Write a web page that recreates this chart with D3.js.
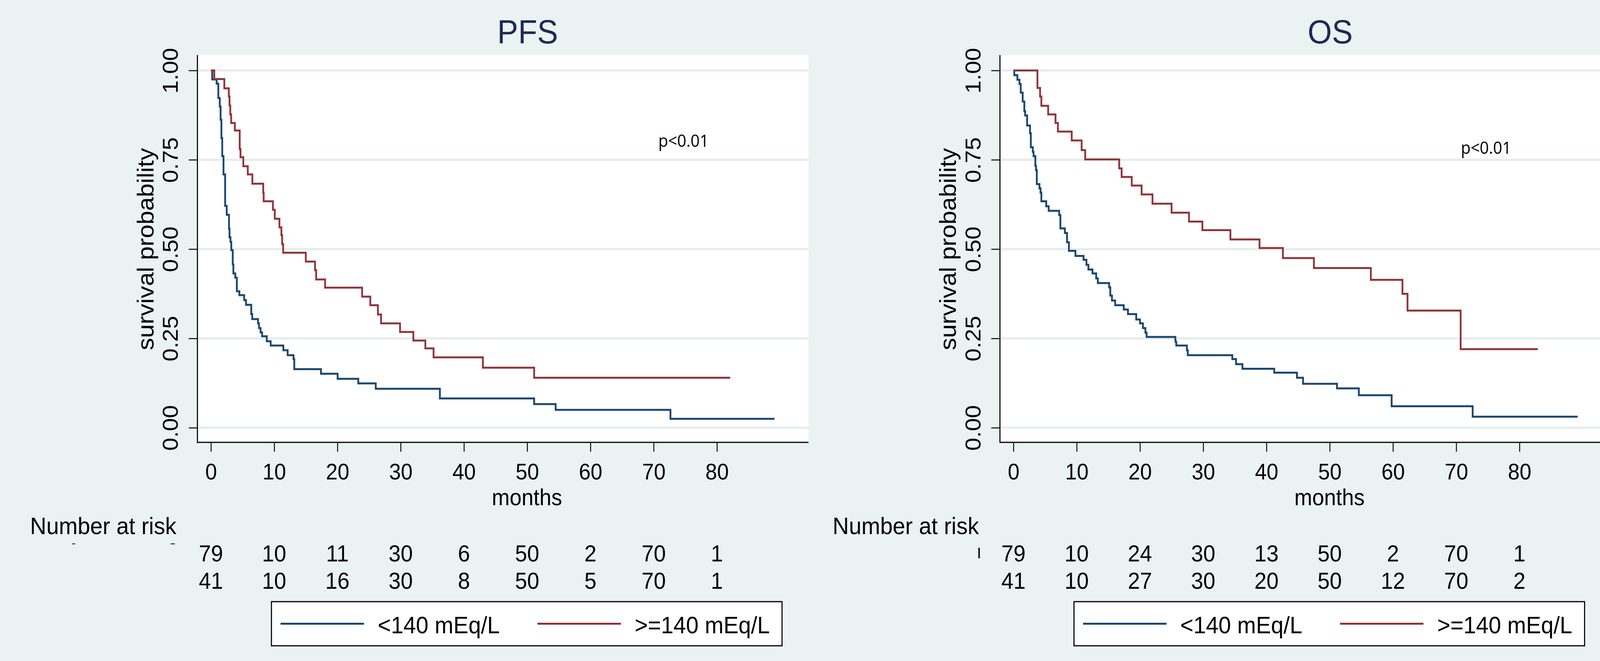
<!DOCTYPE html>
<html>
<head>
<meta charset="utf-8">
<script src="https://cdn.jsdelivr.net/npm/d3@7"></script>
<style>
  html, body { margin: 0; padding: 0; background: #eaf2f2; overflow: hidden; }
  svg { display: block; width: 100vw; height: 100vh; }
  text { font-family: "Liberation Sans", Arial, sans-serif; fill: #000; }
</style>
</head>
<body>
<svg id="chart"></svg>
<script>
// Kaplan-Meier step values (months, survival)
const pfsLowTimes = [0, 0.2, 0.9, 1.17, 1.4, 1.53, 1.66, 1.79, 1.99, 2.25, 2.5, 2.86, 2.94, 3.09, 3.22, 3.45, 3.55, 3.85, 4.1, 4.5, 5.26, 5.55, 6.38, 6.53, 7.45, 7.6, 7.85, 8.09, 8.83, 9.45, 11.45, 12.13, 13.06, 13.18, 17.4, 20.03, 23.3, 26.06, 36.2, 51.1, 54.5, 72.65, 89.1];
const pfsLowSurv = [1, 0.975, 0.963, 0.923, 0.899, 0.862, 0.811, 0.76, 0.709, 0.621, 0.596, 0.557, 0.533, 0.52, 0.497, 0.457, 0.432, 0.42, 0.382, 0.371, 0.357, 0.344, 0.318, 0.304, 0.292, 0.279, 0.267, 0.256, 0.242, 0.23, 0.217, 0.203, 0.192, 0.164, 0.151, 0.137, 0.124, 0.109, 0.082, 0.066, 0.05, 0.025, 0.025];

const pfsHighTimes = [0, 0.53, 2.12, 2.83, 2.94, 3.06, 3.2, 3.78, 4.55, 4.68, 5.12, 5.83, 6.55, 8.27, 8.34, 9.8, 10.1, 10.83, 11.14, 11.26, 11.42, 15.0, 16.46, 16.64, 18.05, 23.9, 25.2, 26.4, 26.9, 29.9, 32.0, 33.9, 35.2, 43.0, 51.1, 82.1];
const pfsHighSurv = [1, 0.976, 0.95, 0.927, 0.902, 0.877, 0.853, 0.832, 0.78, 0.757, 0.732, 0.709, 0.683, 0.658, 0.634, 0.61, 0.585, 0.561, 0.539, 0.514, 0.49, 0.465, 0.441, 0.415, 0.392, 0.367, 0.343, 0.317, 0.292, 0.268, 0.244, 0.222, 0.197, 0.168, 0.14, 0.14];

const osLowTimes = [0, 0.13, 0.62, 0.95, 1.15, 1.46, 1.72, 1.85, 2.16, 2.62, 2.75, 3.06, 3.18, 3.46, 3.57, 3.69, 4.11, 4.28, 4.41, 5.18, 5.57, 7.23, 7.42, 8.13, 8.47, 8.77, 9.8, 11.08, 11.54, 11.85, 12.49, 13.08, 13.34, 15.13, 15.31, 15.57, 16.08, 17.44, 18.1, 19.41, 20.0, 20.47, 20.86, 21.05, 25.6, 25.74, 27.42, 27.56, 34.6, 35.19, 36.2, 41.23, 44.82, 45.78, 51.15, 54.6, 59.79, 72.6, 89.2];
const osLowSurv = [1, 0.987, 0.974, 0.962, 0.938, 0.913, 0.886, 0.874, 0.846, 0.824, 0.785, 0.772, 0.76, 0.733, 0.721, 0.682, 0.67, 0.658, 0.634, 0.62, 0.607, 0.595, 0.558, 0.545, 0.519, 0.495, 0.481, 0.47, 0.456, 0.443, 0.432, 0.418, 0.405, 0.393, 0.37, 0.356, 0.343, 0.331, 0.318, 0.303, 0.292, 0.279, 0.266, 0.254, 0.241, 0.23, 0.217, 0.203, 0.192, 0.178, 0.165, 0.154, 0.14, 0.123, 0.11, 0.091, 0.06, 0.031, 0.031];

const osHighTimes = [0, 3.79, 4.21, 4.41, 5.49, 6.65, 7.03, 9.21, 10.78, 11.34, 16.72, 17.1, 18.7, 20.26, 21.98, 25.0, 27.75, 29.87, 34.3, 38.9, 42.6, 47.5, 56.5, 61.5, 62.3, 70.7, 82.9];
const osHighSurv = [1, 0.951, 0.927, 0.901, 0.877, 0.853, 0.829, 0.804, 0.777, 0.751, 0.726, 0.702, 0.678, 0.653, 0.627, 0.602, 0.577, 0.553, 0.527, 0.503, 0.475, 0.447, 0.414, 0.375, 0.328, 0.22, 0.22];

// number at risk rows, as printed under the ticks 0..80
const pfsRiskLow = ["79", "10", "11", "30", "6", "50", "2", "70", "1"];
const pfsRiskHigh = ["41", "10", "16", "30", "8", "50", "5", "70", "1"];
const osRiskLow = ["79", "10", "24", "30", "13", "50", "2", "70", "1"];
const osRiskHigh = ["41", "10", "27", "30", "20", "50", "12", "70", "2"];

const monthTicks = [0, 10, 20, 30, 40, 50, 60, 70, 80];
const probTicks = [0, 0.25, 0.5, 0.75, 1];
const groupLabels = ["<140 mEq/L", ">=140 mEq/L"];
const titles = ["PFS", "OS"];

const W = 4409, H = 1693;
const colors = ["#1a476f", "#90353b"];
const plot = { left: 544, right: 2228, top: 141, bottom: 1133 };

// draw in picture units and let the viewBox fit the window
const svg = d3.select("#chart")
  .attr("viewBox", `0 0 ${W} ${H}`)
  .attr("preserveAspectRatio", "none");

svg.append("rect")
  .attr("width", W)
  .attr("height", H)
  .attr("fill", "#eaf2f2");

const x = d3.scaleLinear().domain([0, 80]).range([581.2, 1975.6]);
const y = d3.scaleLinear().domain([0, 1]).range([1095.5, 180.5]);

const zip = (t, s) => t.map((d, i) => [d, s[i]]);

const panels = [
  { title: titles[0], dx: 0, pBase: 376,
    curves: [zip(pfsLowTimes, pfsLowSurv), zip(pfsHighTimes, pfsHighSurv)],
    risk: [pfsRiskLow, pfsRiskHigh] },
  { title: titles[1], dx: 2211.5, pBase: 394,
    curves: [zip(osLowTimes, osLowSurv), zip(osHighTimes, osHighSurv)],
    risk: [osRiskLow, osRiskHigh] }
];

const line = d3.line()
  .x(d => x(d[0]))
  .y(d => y(d[1]))
  .curve(d3.curveStepAfter);

panels.forEach(p => {
  const g = svg.append("g").attr("transform", `translate(${p.dx},0)`);

  // title
  g.append("text")
    .attr("x", 1454)
    .attr("y", 111)
    .attr("text-anchor", "middle")
    .style("font-size", "86px")
    .style("fill", "#1c2a55")
    .text(p.title);

  // plot region
  g.append("rect")
    .attr("x", plot.left)
    .attr("y", plot.top)
    .attr("width", plot.right - plot.left)
    .attr("height", plot.bottom - plot.top)
    .attr("fill", "#fff");

  // gridlines
  g.selectAll(".grid")
    .data(probTicks)
    .enter()
    .append("line")
    .attr("class", "grid")
    .attr("x1", plot.left)
    .attr("x2", plot.right)
    .attr("y1", d => y(d))
    .attr("y2", d => y(d))
    .attr("stroke", "#e6eeee")
    .attr("stroke-width", 6);

  // survival curves
  g.selectAll(".km")
    .data(p.curves)
    .enter()
    .append("path")
    .attr("class", "km")
    .attr("d", line)
    .attr("fill", "none")
    .attr("stroke", (d, i) => colors[i])
    .attr("stroke-width", 5);

  // axis lines
  g.append("line")
    .attr("x1", plot.left).attr("x2", plot.left)
    .attr("y1", plot.top).attr("y2", plot.bottom + 1.5)
    .attr("stroke", "#000").attr("stroke-width", 3);
  g.append("line")
    .attr("x1", plot.left).attr("x2", plot.right)
    .attr("y1", plot.bottom).attr("y2", plot.bottom)
    .attr("stroke", "#000").attr("stroke-width", 3);

  // x axis
  const xAxis = g.append("g")
    .attr("transform", `translate(0,${plot.bottom})`)
    .call(d3.axisBottom(x).tickValues(monthTicks).tickSize(24).tickSizeOuter(0).tickPadding(30));
  xAxis.select(".domain").remove();
  xAxis.selectAll(".tick line").attr("stroke", "#000").attr("stroke-width", 2.5);
  xAxis.selectAll(".tick text")
    .attr("fill", "#000")
    .style("font-size", "58px")
    .style("font-family", "'Liberation Sans', Arial, sans-serif");

  g.append("text")
    .attr("x", 1452)
    .attr("y", 1294)
    .attr("text-anchor", "middle")
    .style("font-size", "59px")
    .text("months");

  // y axis with rotated labels
  const yAxis = g.append("g")
    .attr("transform", `translate(${plot.left},0)`)
    .call(d3.axisLeft(y).tickValues(probTicks).tickSize(24).tickSizeOuter(0).tickFormat(d3.format(".2f")));
  yAxis.select(".domain").remove();
  yAxis.selectAll(".tick line").attr("stroke", "#000").attr("stroke-width", 2.5);
  yAxis.selectAll(".tick text")
    .attr("transform", "rotate(-90)")
    .attr("x", 0)
    .attr("y", -54)
    .attr("dy", 0)
    .attr("text-anchor", "middle")
    .attr("fill", "#000")
    .style("font-size", "60px")
    .style("font-family", "'Liberation Sans', Arial, sans-serif");

  g.append("text")
    .attr("transform", "translate(423,638) rotate(-90)")
    .attr("text-anchor", "middle")
    .style("font-size", "63px")
    .text("survival probability");

  // p-value
  g.append("text")
    .attr("x", 1814)
    .attr("y", p.pBase)
    .style("font-size", "44px")
    .style("font-family", "'Open Sans', 'Noto Sans', sans-serif")
    .text("p<0.01");

  // number at risk
  g.append("text")
    .attr("x", 83)
    .attr("y", 1368)
    .style("font-size", "62px")
    .text("Number at risk");

  p.risk.forEach((row, r) => {
    g.selectAll(".risk" + r)
      .data(row)
      .enter()
      .append("text")
      .attr("class", "risk" + r)
      .attr("x", (d, i) => x(monthTicks[i]))
      .attr("y", r === 0 ? 1438 : 1508)
      .attr("text-anchor", "middle")
      .style("font-size", "60px")
      .text(d => d);
  });

  // legend
  const legend = g.append("g");
  legend.append("rect")
    .attr("x", 748).attr("y", 1541)
    .attr("width", 1407).attr("height", 113)
    .attr("fill", "#fff")
    .attr("stroke", "#000")
    .attr("stroke-width", 3);

  const keyX = [773, 1481];
  groupLabels.forEach((lab, i) => {
    legend.append("line")
      .attr("x1", keyX[i]).attr("x2", keyX[i] + 230)
      .attr("y1", 1597.5).attr("y2", 1597.5)
      .attr("stroke", colors[i])
      .attr("stroke-width", 5);
    legend.append("text")
      .attr("x", keyX[i] + 268)
      .attr("y", 1622)
      .style("font-size", "62px")
      .text(lab);
  });
});

// clipped label remnants left of the risk table
svg.append("rect").attr("x", 199).attr("y", 1392).attr("width", 8).attr("height", 2).attr("fill", "#000");
svg.append("rect").attr("x", 470).attr("y", 1392).attr("width", 12).attr("height", 2).attr("fill", "#000");
svg.append("rect").attr("x", 2696).attr("y", 1403).attr("width", 4).attr("height", 27).attr("fill", "#000");
</script>
</body>
</html>
